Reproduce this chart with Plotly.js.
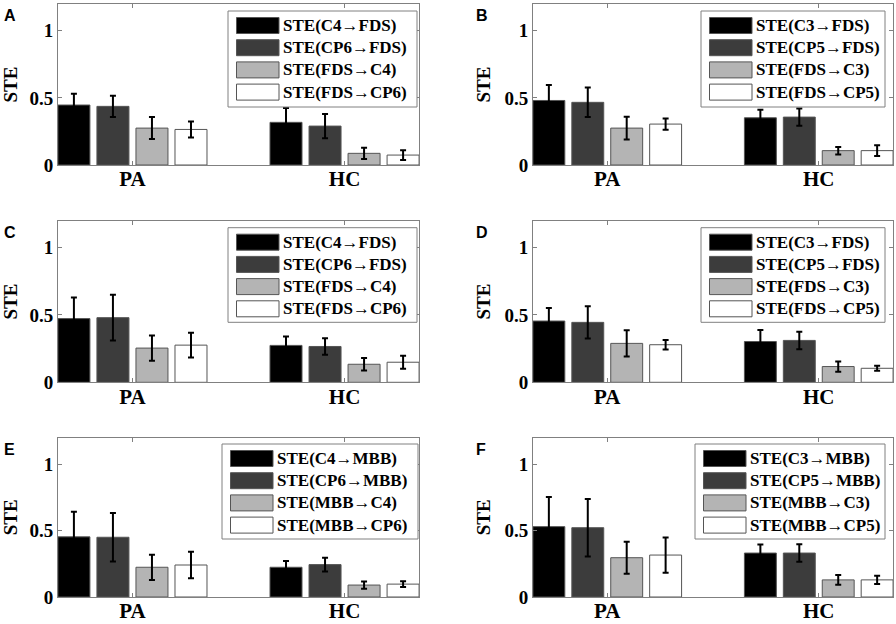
<!DOCTYPE html>
<html>
<head>
<meta charset="utf-8">
<script src="https://cdn.plot.ly/plotly-3.0.1.min.js"></script>
<style>html,body{margin:0;padding:0;background:#fff;}#chart{width:896px;height:624px;}</style>
</head>
<body>
<div id="chart"></div>
<script>
// ---------- data ----------
const categories = ['PA', 'HC'];
const panelLetters = ['A', 'B', 'C', 'D', 'E', 'F'];

const namesA = ['STE(C4→FDS)', 'STE(CP6→FDS)', 'STE(FDS→C4)', 'STE(FDS→CP6)'];
const namesB = ['STE(C3→FDS)', 'STE(CP5→FDS)', 'STE(FDS→C3)', 'STE(FDS→CP5)'];
const namesC = ['STE(C4→FDS)', 'STE(CP6→FDS)', 'STE(FDS→C4)', 'STE(FDS→CP6)'];
const namesD = ['STE(C3→FDS)', 'STE(CP5→FDS)', 'STE(FDS→C3)', 'STE(FDS→CP5)'];
const namesE = ['STE(C4→MBB)', 'STE(CP6→MBB)', 'STE(MBB→C4)', 'STE(MBB→CP6)'];
const namesF = ['STE(C3→MBB)', 'STE(CP5→MBB)', 'STE(MBB→C3)', 'STE(MBB→CP5)'];

// each row: one series, values for [PA, HC]
const valuesA = [[0.447, 0.318], [0.437, 0.290], [0.275, 0.087], [0.265, 0.074]];
const errorsA = [[0.084, 0.106], [0.080, 0.090], [0.082, 0.042], [0.060, 0.036]];
const valuesB = [[0.481, 0.352], [0.467, 0.357], [0.275, 0.107], [0.305, 0.107]];
const errorsB = [[0.115, 0.060], [0.110, 0.065], [0.085, 0.028], [0.042, 0.040]];
const valuesC = [[0.473, 0.274], [0.480, 0.266], [0.254, 0.134], [0.276, 0.149]];
const errorsC = [[0.157, 0.067], [0.170, 0.062], [0.094, 0.046], [0.092, 0.048]];
const valuesD = [[0.455, 0.303], [0.445, 0.311], [0.289, 0.117], [0.279, 0.104]];
const errorsD = [[0.097, 0.085], [0.120, 0.065], [0.098, 0.038], [0.035, 0.018]];
const valuesE = [[0.453, 0.224], [0.450, 0.244], [0.224, 0.090], [0.241, 0.097]];
const errorsE = [[0.190, 0.047], [0.183, 0.051], [0.095, 0.027], [0.100, 0.021]];
const valuesF = [[0.530, 0.331], [0.522, 0.331], [0.296, 0.129], [0.316, 0.129]];
const errorsF = [[0.224, 0.065], [0.217, 0.066], [0.120, 0.037], [0.133, 0.031]];

const yTickVals = [0, 0.5, 1];
const yTickText = ['0', '0.5', '1'];
const yTitle = 'STE';

// ---------- style / layout ----------
const W = 896, H = 624;
const seriesColors = ['#000000', '#3c3c3c', '#b4b4b4', '#ffffff'];
const serif = 'Liberation Serif, Times New Roman, serif';
const sans = 'Liberation Sans, Arial, sans-serif';
const axisGray = '#808080';

const panels = [
  {names: namesA, values: valuesA, errors: errorsA},
  {names: namesB, values: valuesB, errors: errorsB},
  {names: namesC, values: valuesC, errors: errorsC},
  {names: namesD, values: valuesD, errors: errorsD},
  {names: namesE, values: valuesE, errors: errorsE},
  {names: namesF, values: valuesF, errors: errorsF}
];

// plot boxes in pixels [left, top, right, bottom]
const colX = [[58, 419], [533, 893]];
const rowY = [[4, 165], [220.7, 382.3], [437.7, 597]];
// legend boxes in pixels [left, top, right, bottom]
const legendBoxes = [
  [228, 11, 417, 107], [701, 11, 885, 107],
  [228, 227.7, 417, 322.3], [701, 227.7, 885, 322.3],
  [222, 444, 418, 539], [695, 444, 885, 539]
];

const px = v => v / W;
const py = v => 1 - v / H;

const traces = [];
const layout = {
  width: W, height: H,
  margin: {l: 0, r: 0, t: 0, b: 0},
  paper_bgcolor: '#fff', plot_bgcolor: '#fff',
  barmode: 'group', bargap: 0.264, bargroupgap: 0.18,
  showlegend: false,
  shapes: [], annotations: []
};

panels.forEach((p, i) => {
  const n = i + 1;
  const xa = n === 1 ? 'x' : 'x' + n;
  const ya = n === 1 ? 'y' : 'y' + n;
  const col = i % 2, row = Math.floor(i / 2);
  const [L, R] = colX[col];
  const [T, B] = rowY[row];

  p.values.forEach((vals, s) => {
    traces.push({
      type: 'bar', x: categories, y: vals, name: p.names[s],
      xaxis: xa, yaxis: ya,
      marker: {color: seriesColors[s], line: {color: '#555', width: 1}},
      error_y: {type: 'data', array: p.errors[s], visible: true, color: '#000', thickness: 2, width: 3},
      hoverinfo: 'skip'
    });
  });

  const common = {
    showline: true, linecolor: axisGray, linewidth: 1, mirror: 'ticks',
    ticks: 'inside', ticklen: 4, tickcolor: axisGray,
    showgrid: false, zeroline: false, fixedrange: true
  };
  layout['xaxis' + (n === 1 ? '' : n)] = Object.assign({}, common, {
    domain: [px(L), px(R)], anchor: ya, type: 'category',
    range: [-0.351, 1.351], ticklabelstandoff: -5,
    tickfont: {family: serif, size: 21, weight: 'bold', color: '#000'}
  });
  layout['yaxis' + (n === 1 ? '' : n)] = Object.assign({}, common, {
    domain: [py(B), py(T)], anchor: xa, range: [0, 1.2],
    tickvals: yTickVals, ticktext: yTickText,
    tickfont: {family: serif, size: 19, weight: 'bold', color: '#000'},
    title: {text: yTitle, font: {family: serif, size: 19, weight: 'bold', color: '#000'}, standoff: 8}
  });

  // panel letter
  layout.annotations.push({
    xref: 'paper', yref: 'paper', x: px(col === 0 ? 2 : 474), y: py(T + 1),
    xanchor: 'left', yanchor: 'top', showarrow: false,
    text: panelLetters[i], font: {family: sans, size: 16, weight: 'bold', color: '#000'}
  });

  // legend
  const [lx0, ly0, lx1, ly1] = legendBoxes[i];
  layout.shapes.push({
    type: 'rect', xref: 'paper', yref: 'paper',
    x0: px(lx0), x1: px(lx1), y0: py(ly1), y1: py(ly0),
    line: {color: axisGray, width: 1}, fillcolor: '#fff', layer: 'above'
  });
  p.names.forEach((nm, s) => {
    const cy = ly0 + 14.5 + s * 22.2;
    const sx0 = lx0 + 8.5, sx1 = sx0 + 42.5;
    layout.shapes.push({
      type: 'rect', xref: 'paper', yref: 'paper',
      x0: px(sx0), x1: px(sx1), y0: py(cy + 8), y1: py(cy - 8),
      line: {color: '#555', width: 1}, fillcolor: seriesColors[s], layer: 'above'
    });
    layout.annotations.push({
      xref: 'paper', yref: 'paper', x: px(sx1 + 2), y: py(cy),
      xanchor: 'left', yanchor: 'middle', showarrow: false,
      text: nm, font: {family: serif, size: 17, weight: 'bold', color: '#000'}
    });
  });
});

Plotly.newPlot('chart', traces, layout, {staticPlot: true});
</script>
</body>
</html>
